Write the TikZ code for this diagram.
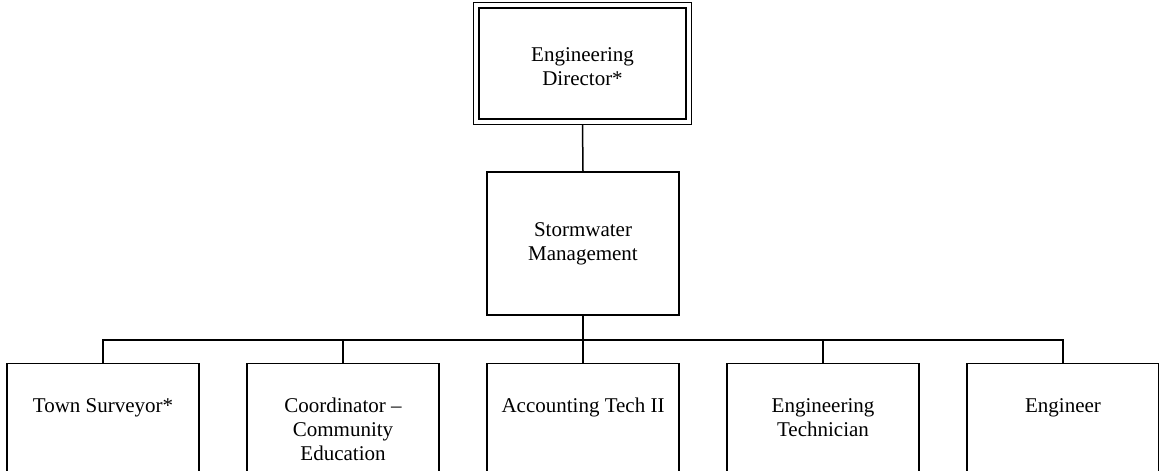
\documentclass[tikz,border=0pt]{standalone}
\usepackage{fontspec}
\setmainfont{Liberation Serif}
\begin{document}
\begin{tikzpicture}[x=1pt,y=-1pt,
  every node/.style={font=\fontsize{21}{24}\selectfont},
  headbox/.style={draw=black, line width=1.8pt, minimum width=207pt,
    minimum height=111pt, inner sep=0pt},
  headframe/.style={draw=black, line width=1.1pt},
  unitbox/.style={draw=black, line width=1.4pt, minimum width=192pt,
    minimum height=143pt, inner sep=0pt, align=center},
  rolebox/.style={draw=black, line width=1.4pt, minimum width=192pt,
    minimum height=130pt, inner sep=0pt, anchor=north},
  roletext/.style={anchor=north, inner sep=0pt, align=center},
  link/.style={draw=black, line width=1.5pt}]
\clip (0,0) rectangle (1159,471);
\fill[white] (0,0) rectangle (1159,471);

% director (double frame) and unit
\node[headbox] (dir) at (582.5,63.5) {};
\draw[headframe] ([shift={(-5pt,5pt)}]dir.north west) rectangle ([shift={(5pt,-4.5pt)}]dir.south east);
\node[inner sep=0pt, align=center] (dirtext) at ([yshift=-3pt]dir.center) {Engineering\\Director*};
\node[unitbox] (mid) at (583,243.5) {Stormwater\\Management};

% staff positions
\node[rolebox] (b1) at (103,363) {};
\node[rolebox] (b2) at (343,363) {};
\node[rolebox] (b3) at (583,363) {};
\node[rolebox] (b4) at (823,363) {};
\node[rolebox] (b5) at (1063,363) {};

\node[roletext] (t1) at ([yshift=-35pt]b1.north) {Town Surveyor*};
\node[roletext] (t2) at ([yshift=-35pt]b2.north) {Coordinator --\\Community\\Education};
\node[roletext] (t3) at ([yshift=-35pt]b3.north) {Accounting Tech II};
\node[roletext] (t4) at ([yshift=-35pt]b4.north) {Engineering\\Technician};
\node[roletext] (t5) at ([yshift=-35pt]b5.north) {Engineer};

% reporting lines
\coordinate (bar) at (583,340);
\draw[link] ([yshift=-4.5pt]dir.south) -- (mid.north);
\draw[link, line width=2.2pt] (mid.south) -- (bar);
\draw[link] (bar) -| (b1.north);
\draw[link] (bar) -| (b2.north);
\draw[link] (bar) -- (b3.north);
\draw[link] (bar) -| (b4.north);
\draw[link] (bar) -| (b5.north);
\end{tikzpicture}
\end{document}
